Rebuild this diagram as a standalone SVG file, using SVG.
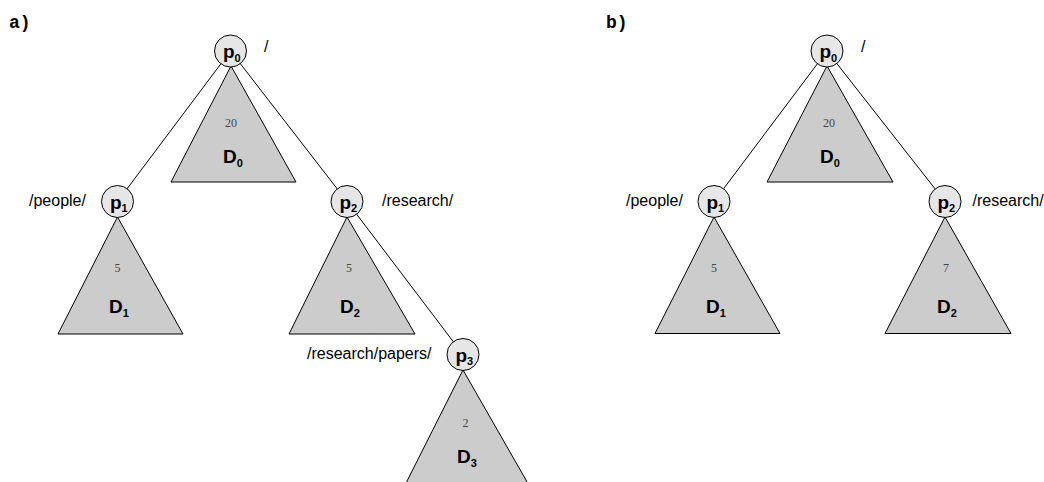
<svg xmlns="http://www.w3.org/2000/svg" width="1044" height="482" viewBox="0 0 1044 482">
  <style>
    .edge { stroke: #000; stroke-width: 1; fill: none; }
    .tri { fill: #cccccc; stroke: #000; stroke-width: 1; }
    .node { fill: #e6e6e6; stroke: #000; stroke-width: 1; }
    .nlab { font-family: "Liberation Sans", Arial, sans-serif; font-weight: bold; font-size: 19px; fill: #000; }
    .sub { font-size: 11px; }
    .cnt { font-family: "Liberation Serif", "Times New Roman", serif; font-size: 12px; fill: #444; text-anchor: middle; }
    .path { font-family: "Liberation Sans", Arial, sans-serif; font-size: 16px; fill: #000; }
    .panel { font-family: "Liberation Mono", "Courier New", monospace; font-weight: bold; font-size: 18px; fill: #000; }
  </style>

  <text class="panel" x="9" y="28">a)</text>
  <text class="panel" x="606" y="28">b)</text>

  <!-- tree edges -->
  <g id="connectors">
    <line class="edge" x1="230.5" y1="51" x2="117.5" y2="201.5"/>
    <line class="edge" x1="230.5" y1="51" x2="347" y2="201.5"/>
    <line class="edge" x1="347" y1="201.5" x2="463" y2="354.5"/>
    <line class="edge" x1="827" y1="51" x2="714" y2="201.5"/>
    <line class="edge" x1="827" y1="51" x2="945" y2="201.5"/>
  </g>

  <!-- panel a -->
  <g id="a-D0">
    <polygon class="tri" points="231,66 171,182 296,182"/>
    <text class="cnt" x="231" y="127">20</text>
    <text class="nlab" x="223" y="163">D<tspan class="sub" dy="4">0</tspan></text>
  </g>
  <g id="a-p0">
    <circle class="node" cx="230.5" cy="51" r="16"/>
    <text class="nlab" x="223" y="58">p<tspan class="sub" dy="3.5">0</tspan></text>
    <text class="path" x="264" y="52">/</text>
  </g>

  <g id="a-D1">
    <polygon class="tri" points="117.5,217 58,334 183,334"/>
    <text class="cnt" x="117.5" y="272">5</text>
    <text class="nlab" x="109" y="313">D<tspan class="sub" dy="4">1</tspan></text>
  </g>
  <g id="a-p1">
    <circle class="node" cx="117.5" cy="201.5" r="16"/>
    <text class="nlab" x="110" y="208.5">p<tspan class="sub" dy="3.5">1</tspan></text>
    <text class="path" x="29" y="206">/people/</text>
  </g>

  <g id="a-D2">
    <polygon class="tri" points="347,217 289,334 415,334"/>
    <text class="cnt" x="349" y="272">5</text>
    <text class="nlab" x="340" y="313">D<tspan class="sub" dy="4">2</tspan></text>
  </g>
  <g id="a-p2">
    <circle class="node" cx="347" cy="201.5" r="16"/>
    <text class="nlab" x="339.5" y="208.5">p<tspan class="sub" dy="3.5">2</tspan></text>
    <text class="path" x="382" y="206">/research/</text>
  </g>

  <g id="a-D3">
    <polygon class="tri" points="463,370 404,487 530,487"/>
    <text class="cnt" x="465.5" y="427">2</text>
    <text class="nlab" x="457" y="463">D<tspan class="sub" dy="4">3</tspan></text>
  </g>
  <g id="a-p3">
    <circle class="node" cx="463" cy="354.5" r="16"/>
    <text class="nlab" x="455.5" y="361.5">p<tspan class="sub" dy="3.5">3</tspan></text>
    <text class="path" x="307" y="359">/research/papers/</text>
  </g>

  <!-- panel b -->
  <g id="b-D0">
    <polygon class="tri" points="827,66 767,182 893,182"/>
    <text class="cnt" x="829" y="127">20</text>
    <text class="nlab" x="820" y="163">D<tspan class="sub" dy="4">0</tspan></text>
  </g>
  <g id="b-p0">
    <circle class="node" cx="827" cy="51" r="16"/>
    <text class="nlab" x="819.5" y="58">p<tspan class="sub" dy="3.5">0</tspan></text>
    <text class="path" x="861" y="52">/</text>
  </g>

  <g id="b-D1">
    <polygon class="tri" points="714,217 655,333.5 780,333.5"/>
    <text class="cnt" x="714" y="272">5</text>
    <text class="nlab" x="706" y="313">D<tspan class="sub" dy="4">1</tspan></text>
  </g>
  <g id="b-p1">
    <circle class="node" cx="714" cy="201.5" r="16"/>
    <text class="nlab" x="706.5" y="208.5">p<tspan class="sub" dy="3.5">1</tspan></text>
    <text class="path" x="626" y="206">/people/</text>
  </g>

  <g id="b-D2">
    <polygon class="tri" points="945,217 885,333.5 1011,333.5"/>
    <text class="cnt" x="946" y="272">7</text>
    <text class="nlab" x="937" y="313">D<tspan class="sub" dy="4">2</tspan></text>
  </g>
  <g id="b-p2">
    <circle class="node" cx="945" cy="201.5" r="16"/>
    <text class="nlab" x="937.5" y="208.5">p<tspan class="sub" dy="3.5">2</tspan></text>
    <text class="path" x="972.5" y="206">/research/</text>
  </g>
</svg>
